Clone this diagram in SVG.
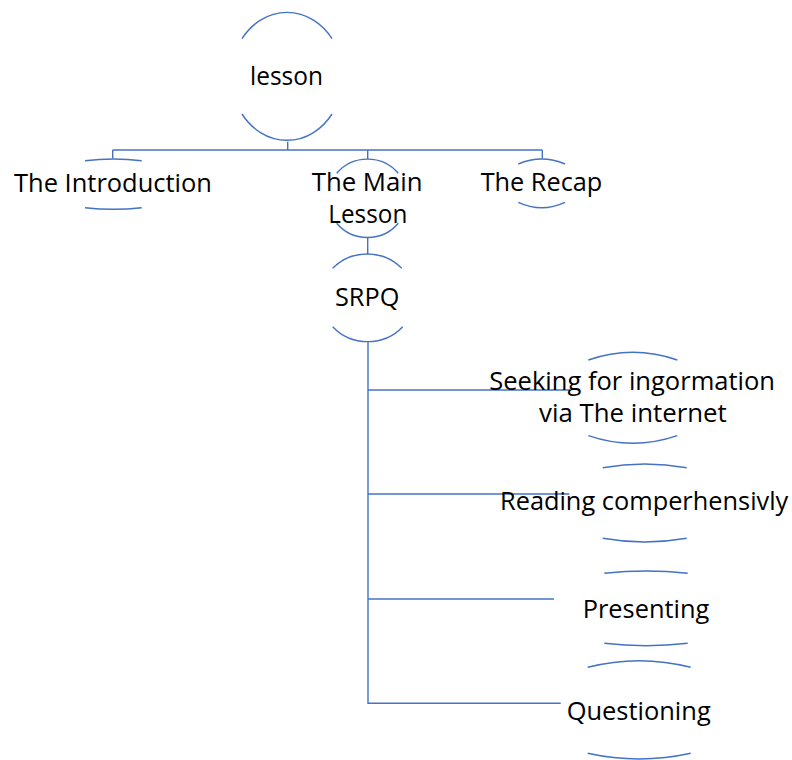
<svg xmlns="http://www.w3.org/2000/svg" width="792" height="760" viewBox="0 0 792 760">
<style>
.sh{fill:none;stroke:#4472C4;stroke-width:1.4}
.cn{fill:none;stroke:#4472C4;stroke-width:1.4}
.t{font-family:"Open Sans","Noto Sans","Liberation Sans",sans-serif;font-size:26px;fill:#000}
</style>
<rect width="792" height="760" fill="#fff"/>
<g id="connectors">
<path class="cn" d="M287.7,141.7 V150"/>
<path class="cn" d="M112.7,150 H542.3"/>
<path class="cn" d="M112.7,150 V158.5"/>
<path class="cn" d="M367.7,150 V159"/>
<path class="cn" d="M542.3,150 V158.5"/>
<path class="cn" d="M367.7,237.7 V254"/>
<path class="cn" d="M368,341.7 V703.3 H560.7"/>
<path class="cn" d="M368,390 H570"/>
<path class="cn" d="M368,494 H569.3"/>
<path class="cn" d="M368,599 H554"/>
</g>
<g id="lesson">
<path class="sh" d="M242,38.7 A56,65 0 0 1 332,38.7"/>
<path class="sh" d="M242,114 A56,65 0 0 0 332,114"/>
<text class="t" x="250" y="85" textLength="73" lengthAdjust="spacingAndGlyphs">lesson</text>
</g>
<g id="introduction">
<path class="sh" d="M85,160.7 Q113.3,157.3 141.7,160.7"/>
<path class="sh" d="M85,207.7 Q113.3,210.9 141.7,207.7"/>
<text class="t" x="14" y="191.7" textLength="198" lengthAdjust="spacingAndGlyphs">The Introduction</text>
</g>
<g id="main-lesson">
<path class="sh" d="M336.7,173.3 A40,39.3 0 0 1 398.3,173.3"/>
<path class="sh" d="M336.7,223.3 A40,39.3 0 0 0 398.3,223.3"/>
<text class="t" x="311.7" y="190.7" textLength="111" lengthAdjust="spacingAndGlyphs">The Main</text>
<text class="t" x="328.3" y="223.3" textLength="79" lengthAdjust="spacingAndGlyphs">Lesson</text>
</g>
<g id="recap">
<path class="sh" d="M518.3,164 Q541.7,154 565,164"/>
<path class="sh" d="M518.3,202.3 Q541.7,213.1 565,202.3"/>
<text class="t" x="480.7" y="190.7" textLength="121.6" lengthAdjust="spacingAndGlyphs">The Recap</text>
</g>
<g id="srpq">
<path class="sh" d="M332.7,268.3 A46.6,43.85 0 0 1 401.7,268.3"/>
<path class="sh" d="M332.7,326.7 A46.6,43.85 0 0 0 402.7,326.7"/>
<text class="t" x="335" y="305.7" textLength="64.3" lengthAdjust="spacingAndGlyphs">SRPQ</text>
</g>
<g id="seeking">
<path class="sh" d="M588.3,360 Q632.8,344.6 677.3,360"/>
<path class="sh" d="M588.3,435.7 Q632.8,450.9 677.3,435.7"/>
<text class="t" x="489.3" y="390" textLength="285.7" lengthAdjust="spacingAndGlyphs">Seeking for ingormation</text>
<text class="t" x="539" y="421.7" textLength="187.7" lengthAdjust="spacingAndGlyphs">via The internet</text>
</g>
<g id="reading">
<path class="sh" d="M602.7,467.7 Q644.7,460.3 686.7,467.7"/>
<path class="sh" d="M602.7,538.3 Q644.7,545.7 686.7,538.3"/>
<text class="t" x="500" y="510" textLength="288.3" lengthAdjust="spacingAndGlyphs">Reading comperhensivly</text>
</g>
<g id="presenting">
<path class="sh" d="M604.3,573.3 Q646,568.7 687.7,573.3"/>
<path class="sh" d="M604.3,643.3 Q646,648.1 687.7,643.3"/>
<text class="t" x="582.7" y="617.7" textLength="126.6" lengthAdjust="spacingAndGlyphs">Presenting</text>
</g>
<g id="questioning">
<path class="sh" d="M587.7,667.3 Q639.2,654.1 690.7,667.3"/>
<path class="sh" d="M587.7,753.3 Q639.2,764.7 690.7,753.3"/>
<text class="t" x="566.7" y="720" textLength="144" lengthAdjust="spacingAndGlyphs">Questioning</text>
</g>
</svg>
